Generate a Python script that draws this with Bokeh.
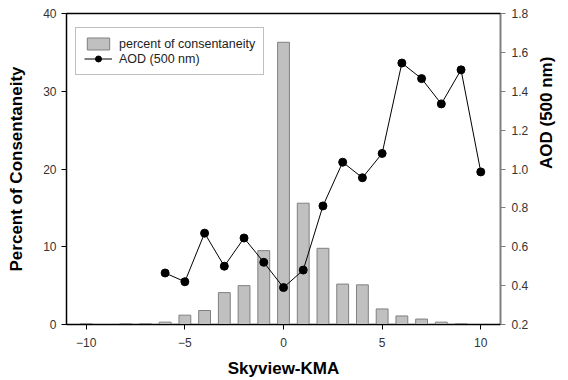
import math
from bokeh.plotting import figure
from bokeh.models import Range1d, LinearAxis, Legend, LegendItem, FixedTicker, NumeralTickFormatter
from bokeh.embed import file_html
from bokeh.resources import INLINE

diff = [-10, -8, -7, -6, -5, -4, -3, -2, -1, 0, 1, 2, 3, 4, 5, 6, 7, 8, 9]
percent = [0.1, 0.1, 0.1, 0.3, 1.2, 1.8, 4.1, 5.0, 9.5, 36.3, 15.6, 9.8, 5.2, 5.1, 2.0, 1.1, 0.7, 0.3, 0.1]

aod_x = [-6, -5, -4, -3, -2, -1, 0, 1, 2, 3, 4, 5, 6, 7, 8, 9, 10]
aod = [0.465, 0.42, 0.67, 0.50, 0.645, 0.52, 0.39, 0.48, 0.81, 1.035, 0.955, 1.08, 1.545, 1.465, 1.335, 1.51, 0.985]

x_ticks = [-10, -5, 0, 5, 10]
pct_ticks = [0, 10, 20, 30, 40]
aod_ticks = [0.2, 0.4, 0.6, 0.8, 1.0, 1.2, 1.4, 1.6, 1.8]

FONT = "Liberation Sans"

p = figure(width=568, height=380, output_backend="svg", toolbar_location=None,
           x_range=Range1d(-11, 11), y_range=Range1d(0, 40),
           min_border_left=66, min_border_right=10, min_border_top=13, min_border_bottom=10)
p.extra_y_ranges = {"aod": Range1d(0.2, 1.8)}
p.grid.visible = False
p.outline_line_color = "black"
p.outline_line_width = 1.5

bars = p.vbar(x=diff, top=percent, width=0.6, fill_color="#c0c0c0", line_color="#808080", line_width=1)
line = p.line(aod_x, aod, y_range_name="aod", line_color="black", line_width=1)
pts = p.scatter(aod_x, aod, y_range_name="aod", size=8, fill_color="black", line_color="black")

right = LinearAxis(y_range_name="aod", ticker=FixedTicker(ticks=aod_ticks),
                   axis_label="AOD (500 nm)")
right.formatter = NumeralTickFormatter(format="0.0")
right.axis_label_orientation = math.pi / 2
p.add_layout(right, "right")

p.xaxis.ticker = FixedTicker(ticks=x_ticks)
p.yaxis[0].ticker = FixedTicker(ticks=pct_ticks)
p.xaxis.axis_label = "Skyview-KMA"
p.yaxis[0].axis_label = "Percent of Consentaneity"

for ax in p.axis:
    ax.major_label_text_font = FONT
    ax.major_label_text_font_size = "12px"
    ax.major_label_text_color = "#333333"
    ax.axis_label_text_font = FONT
    ax.axis_label_text_font_size = "17px"
    ax.axis_label_text_font_style = "bold"
    ax.axis_label_text_color = "black"
    ax.minor_tick_line_color = None
    ax.major_tick_out = 5
    ax.major_tick_in = 0
    ax.axis_line_color = "black"
    ax.major_tick_line_color = "black"
right.axis_line_color = "#808080"
right.major_tick_line_color = "#808080"
right.major_label_standoff = 6
right.axis_label_standoff = 15
p.xaxis.major_label_standoff = 8
p.xaxis.axis_label_standoff = 9
p.yaxis[0].axis_label_standoff = 14

legend = Legend(items=[LegendItem(label="percent of consentaneity", renderers=[bars]),
                       LegendItem(label="AOD (500 nm)", renderers=[line, pts])],
                location=(9, 249))
legend.label_text_font = FONT
legend.label_text_font_size = "12.5px"
legend.label_text_color = "#222222"
legend.border_line_color = "#808080"
legend.border_line_width = 1
legend.spacing = 0
legend.padding = 8
legend.margin = 0
legend.glyph_height = 15
legend.label_height = 15
legend.glyph_width = 28
legend.label_standoff = 7
p.add_layout(legend)

open("out.html", "w").write(file_html(p, INLINE))
